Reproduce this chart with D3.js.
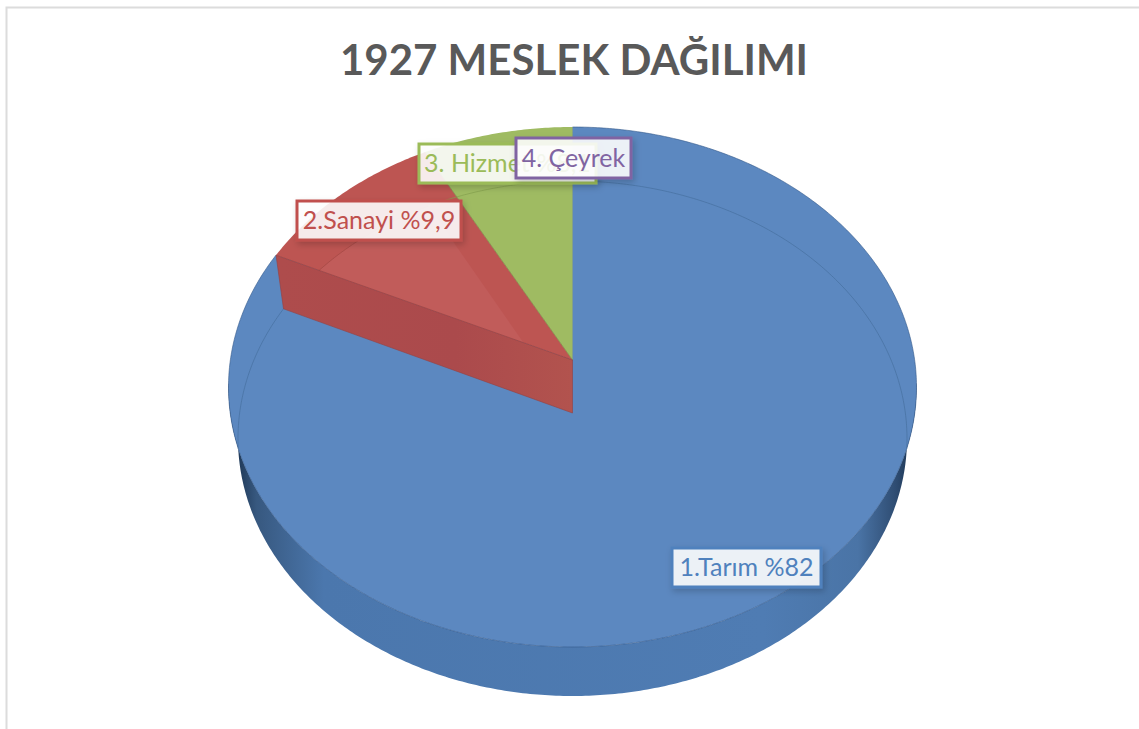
<!DOCTYPE html>
<html><head><meta charset="utf-8">
<style>html,body{margin:0;padding:0;background:#fff}svg{display:block}</style>
<script src="https://d3js.org/d3.v7.min.js"></script>
</head><body><div id="chart"></div>
<script>
// Data
const chartTitle = "1927 MESLEK DAĞILIMI";
const categories = ["1.Tarım", "2.Sanayi", "3. Hizmet", "4. Çeyrek"];
const shares = [82, 10.2, 7.8, 0];
const labels = ["1.Tarım %82", "2.Sanayi %9,9", "3. Hizmet %8,1", "4. Çeyrek"];

const W = 1139, H = 729;
const sliceColors = ["#5c88c0", "#bd5552", "#9fbb62", "#8064a2"];
const labelColors = ["#4f81bd", "#c0504d", "#9bbb59", "#8064a2"];
const labelBoxes = [
  {x:672, y:548, w:149, h:39},
  {x:297, y:201, w:164, h:39},
  {x:419, y:144, w:177, h:39},
  {x:516, y:138, w:115, h:40}
];

const svg = d3.select("#chart").append("svg").attr("width", W).attr("height", H)
  .attr("font-family", "Lato, 'Open Sans', sans-serif");

// Perspective projections of the upper face and the floor of the disc
function projector(cx, cy, top, bottom, rx) {
  const c = ((top + bottom) - 2 * cy) / (bottom - top);
  const b = top * (1 + c) - cy;
  const R = rx * Math.sqrt(1 - c * c);
  return a => {
    const u = Math.sin(a), v = Math.cos(a), d = 1 + c * v;
    return [cx + R * u / d, (cy + b * v) / d];
  };
}
const topFace = projector(572.5, 360, 127, 647, 344);
const floorFace = projector(572.5, 413, 181, 696, 334.5);
const toRad = d => d * Math.PI / 180;
const line = d3.line();
const arcPts = (f, a0, a1) => {
  const n = Math.max(2, Math.ceil(Math.abs(a1 - a0) / 0.01));
  return d3.range(n + 1).map(i => f(a0 + (a1 - a0) * i / n));
};
const sector = (f, a0, a1) => line([f.center, ...arcPts(f, a0, a1)]) + "Z";
topFace.center = [572.5, 360];
floorFace.center = [572.5, 413];

const arcs = d3.pie().sort(null).value(d => d).startAngle(0).endAngle(2 * Math.PI)(shares);
const [blue, red, green] = arcs;

// frame
svg.append("path").attr("d", `M6.5,${H}V7.5H${W}`).attr("fill", "none").attr("stroke", "#dcdcdc").attr("stroke-width", 2);

// title
svg.append("text").attr("x", 574).attr("y", 75).attr("text-anchor", "middle")
  .attr("font-size", 42).attr("font-weight", 700).attr("fill", "#595959").text(chartTitle);

// defs
const defs = svg.append("defs");
const sideGrad = defs.append("linearGradient").attr("id", "side").attr("gradientUnits", "userSpaceOnUse")
  .attr("x1", 236).attr("x2", 912).attr("y1", 0).attr("y2", 0);
[[0, "#1d3654"], [0.03, "#37587f"], [0.13, "#4b77ad"], [0.78, "#4f7cb3"], [0.92, "#4a74a6"], [0.975, "#2f4d73"], [1, "#1d3654"]]
  .forEach(([o, c]) => sideGrad.append("stop").attr("offset", o).attr("stop-color", c));
const sh = defs.append("filter").attr("id", "shadow").attr("x", "-10%").attr("y", "-20%").attr("width", "125%").attr("height", "150%");
sh.append("feDropShadow").attr("dx", 2).attr("dy", 3).attr("stdDeviation", 3).attr("flood-color", "#000").attr("flood-opacity", 0.2);

// disc side wall
const frontL = toRad(265), frontR = toRad(95);
svg.append("path").attr("fill", "url(#side)")
  .attr("d", line([...arcPts(topFace, frontR, frontL), ...arcPts(floorFace, frontL, frontR)]) + "Z");

// top faces
svg.append("path").attr("d", sector(topFace, blue.startAngle, blue.endAngle))
  .attr("fill", sliceColors[0]).attr("stroke", "#34598a").attr("stroke-width", 0.6);
svg.append("path").attr("d", sector(topFace, green.startAngle, green.endAngle)).attr("fill", sliceColors[2]);
svg.append("path").attr("d", sector(topFace, red.startAngle, red.endAngle)).attr("fill", sliceColors[1]);

// red slice: floor seen through, clipped by its own top face
const clip = defs.append("clipPath").attr("id", "redClip");
clip.append("path").attr("d", sector(topFace, red.startAngle, red.endAngle));
svg.append("path").attr("d", sector(floorFace, red.startAngle, red.endAngle))
  .attr("clip-path", "url(#redClip)").attr("fill", "#c15c5a");
svg.append("path").attr("d", line(arcPts(floorFace, red.startAngle, red.endAngle)))
  .attr("fill", "none").attr("stroke", "#a24744").attr("stroke-width", 0.7);
svg.append("path").attr("d", line([topFace.center, topFace(red.endAngle)]))
  .attr("stroke", "#7e8f45").attr("stroke-width", 0.8).attr("fill", "none");

// red front wall
const redWall = [topFace.center, topFace(red.startAngle), floorFace(red.startAngle), floorFace.center];
const wallGrad = defs.append("linearGradient").attr("id", "wall").attr("gradientUnits", "userSpaceOnUse")
  .attr("x1", 280).attr("x2", 572).attr("y1", 0).attr("y2", 0);
wallGrad.append("stop").attr("offset", 0).attr("stop-color", "#ae4c4c");
wallGrad.append("stop").attr("offset", 0.6).attr("stop-color", "#ab4a4c");
wallGrad.append("stop").attr("offset", 1).attr("stop-color", "#b2534e");
svg.append("path").attr("d", line(redWall) + "Z").attr("fill", "url(#wall)").attr("stroke", "#96403f").attr("stroke-width", 0.6);

// floor rim seen through the translucent faces
const rim = (a0, a1, color) => svg.append("path").attr("d", line(arcPts(floorFace, a0, a1)))
  .attr("fill", "none").attr("stroke", color).attr("stroke-width", 0.7);
rim(blue.startAngle, toRad(98), "#46709f");
rim(red.startAngle, toRad(262), "#46709f");
rim(green.startAngle, green.endAngle, "#84a04e");

// data labels
const lab = svg.append("g").selectAll("g").data(labels).join("g");
lab.append("rect")
  .attr("x", (d, i) => labelBoxes[i].x).attr("y", (d, i) => labelBoxes[i].y)
  .attr("width", (d, i) => labelBoxes[i].w).attr("height", (d, i) => labelBoxes[i].h)
  .attr("fill", "#fff").attr("fill-opacity", 0.88)
  .attr("stroke", (d, i) => labelColors[i]).attr("stroke-width", 3)
  .attr("filter", "url(#shadow)");
lab.append("text")
  .attr("x", (d, i) => labelBoxes[i].x + labelBoxes[i].w / 2)
  .attr("y", (d, i) => labelBoxes[i].y + labelBoxes[i].h / 2 + 8.5)
  .attr("text-anchor", "middle").attr("font-size", 25)
  .attr("fill", (d, i) => labelColors[i]).text(d => d);
</script></body></html>
